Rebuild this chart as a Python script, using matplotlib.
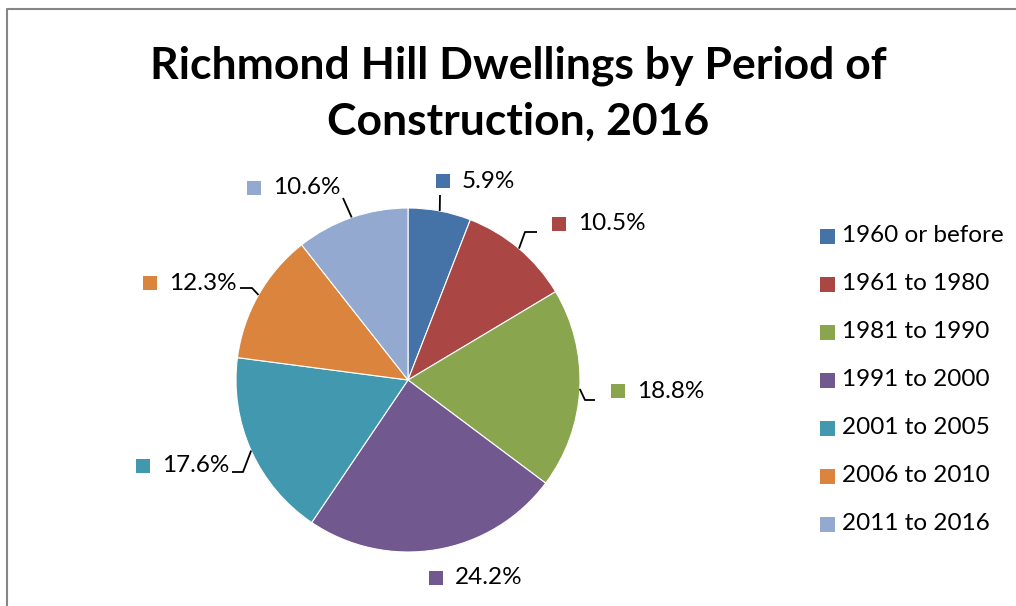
import numpy as np
import matplotlib
matplotlib.use("Agg")
import matplotlib.pyplot as plt
from matplotlib.patches import Rectangle
from matplotlib.lines import Line2D

plt.rcParams['font.family'] = ['Lato', 'DejaVu Sans']

W, H = 1016, 606

categories = ["1960 or before", "1961 to 1980", "1981 to 1990", "1991 to 2000",
              "2001 to 2005", "2006 to 2010", "2011 to 2016"]
shares = [5.9, 10.5, 18.8, 24.2, 17.6, 12.3, 10.6]
colors = ["#4572A7", "#AA4643", "#89A54E", "#71588F", "#4198AF", "#DB843D", "#93A9CF"]
title = "Richmond Hill Dwellings by Period of\nConstruction, 2016"

# layout, in pixels from top-left of the image
center = (408, 380)
radius = 172
# (text left x, text y) for each data label
label_pos = [(462, 181), (578, 224), (637, 391), (455, 578), (162, 466), (169, 283), (273, 188)]
# leader line points from the label side, the last point is on the pie edge
leader = [[(440, 195)],
          [(537, 232), (525, 232)],
          [(595, 400), (585, 400)],
          [],
          [(232, 472), (243, 472)],
          [(240, 288), (252, 288)],
          [(343, 198)]]


def px(x, y):
    return x, H - y


fig = plt.figure(figsize=(W / 100, H / 100), dpi=100)
ax = fig.add_axes([0, 0, 1, 1])

wedges, _ = ax.pie(shares, colors=colors, startangle=90, counterclock=False,
                   center=px(*center), radius=radius, frame=True,
                   wedgeprops=dict(edgecolor='white', linewidth=0.8))
ax.set_xlim(0, W)
ax.set_ylim(0, H)
ax.set_aspect('equal')
ax.axis('off')

# data labels with small colour keys and leader lines
for w, v, c, (tx, ty), pts in zip(wedges, shares, colors, label_pos, leader):
    ax.add_patch(Rectangle(px(tx - 26, ty + 7), 14, 14, facecolor=c, edgecolor='none'))
    ax.text(*px(tx, ty), f"{v:.1f}%", fontsize=17.5, va='center', ha='left', color='black')
    if pts:
        mid = np.deg2rad((w.theta1 + w.theta2) / 2)
        ex = center[0] + radius * np.cos(mid)
        ey = center[1] - radius * np.sin(mid)
        xs = [p[0] for p in pts] + [ex]
        ys = [H - p[1] for p in pts] + [H - ey]
        ax.plot(xs, ys, color='black', lw=1.3, solid_capstyle='butt')

# legend
for i, (cat, c) in enumerate(zip(categories, colors)):
    y = 236 + 48 * i
    ax.add_patch(Rectangle(px(820, y + 7.5), 15, 15, facecolor=c, edgecolor='none'))
    ax.text(*px(842, y), cat, fontsize=17.5, va='center', ha='left', color='black')

ax.text(*px(518, 94), title, fontsize=32, fontweight='bold', ha='center', va='center',
        linespacing=1.48, color='black')

# chart area border
fig.add_artist(Line2D([7 / W, 7 / W, 1], [0, 1 - 9 / H, 1 - 9 / H], transform=fig.transFigure,
                      color='#868686', lw=1.5))

fig.savefig("out.png", dpi=100)
